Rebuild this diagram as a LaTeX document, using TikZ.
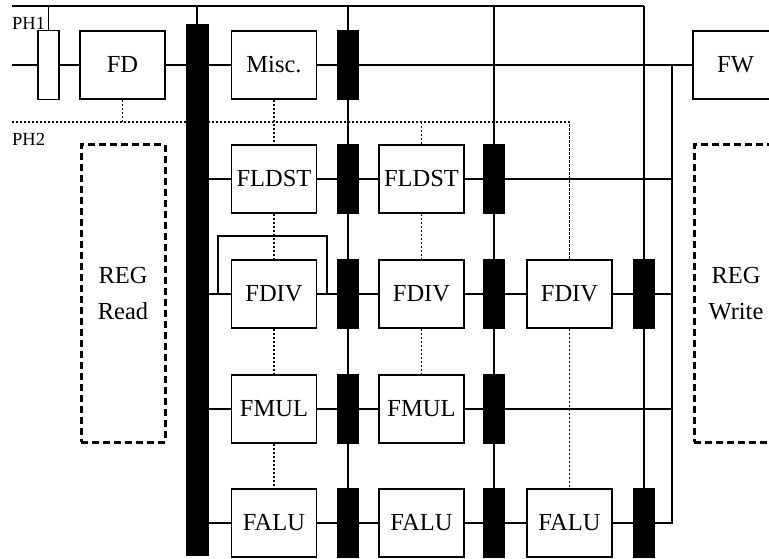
\documentclass[tikz,border=0pt]{standalone}
\usepackage{fontspec}
\setmainfont{Liberation Serif}
\begin{document}
\begin{tikzpicture}[x=1pt,y=-1pt,
  unit/.style={draw,line width=1.8pt,fill=white,minimum width=85pt,minimum height=68pt,inner sep=0pt,font=\fontsize{24.5}{28}\selectfont},
  latch/.style={draw,line width=0.5pt,fill=black,minimum width=21pt,minimum height=69pt,inner sep=0pt},
  sig/.style={line width=1.9pt},
  clk/.style={line width=1.2pt},
  ph2line/.style={line width=1.6pt,dash pattern=on 2.2pt off 1.8pt},
  regbox/.style={draw,line width=3pt,dash pattern=on 7pt off 4pt,minimum width=84pt,minimum height=297pt,inner sep=0pt,align=center,font=\fontsize{24.5}{36}\selectfont},
  lbl/.style={inner sep=0pt,font=\fontsize{18.5}{20}\selectfont}
]
\useasboundingbox (0,0) rectangle (769,559);
\clip (0,0) rectangle (769,559);

% labels
\node[lbl,anchor=base west] (ph1) at (12,29.5) {PH1};
\node[lbl,anchor=base west] (ph2) at (12,146) {PH2};

% big bar
\node[latch,minimum width=22pt,minimum height=531pt] (bar) at (197,289.5) {};

% PH1 latch box
\node[draw,line width=1.2pt,fill=white,minimum width=21pt,minimum height=69pt,inner sep=0pt] (ph1box) at (48.5,65) {};

% row 1
\node[unit] (fd) at (122.5,65) {FD};
\node[unit] (misc) at (274,65) {Misc.};
\node[unit] (fw) at (735.5,65) {FW};
\node[latch] (la1) at (348,65) {};

% row 2
\node[unit] (fldst1) at (274,179) {FLDST};
\node[unit] (fldst2) at (421.5,179) {FLDST};
\node[latch] (la2) at (348,179) {};
\node[latch] (lb2) at (494,179) {};

% row 3
\node[unit] (fdiv1) at (274,294) {FDIV};
\node[unit] (fdiv2) at (421.5,294) {FDIV};
\node[unit] (fdiv3) at (569.5,294) {FDIV};
\node[latch] (la3) at (348,294) {};
\node[latch] (lb3) at (494,294) {};
\node[latch] (lc3) at (644,294) {};

% row 4
\node[unit] (fmul1) at (274,409) {FMUL};
\node[unit] (fmul2) at (421.5,409) {FMUL};
\node[latch] (la4) at (348,409) {};
\node[latch] (lb4) at (494,409) {};

% row 5
\node[unit] (falu1) at (274,523) {FALU};
\node[unit] (falu2) at (421.5,523) {FALU};
\node[unit] (falu3) at (569.5,523) {FALU};
\node[latch] (la5) at (348,523) {};
\node[latch] (lb5) at (494,523) {};
\node[latch] (lc5) at (644,523) {};

% register boxes
\node[regbox] (regr) at (123,293.5) {REG\\Read};
\node[regbox] (regw) at (736,293.5) {REG\\Write};

% coordinates
\coordinate (ct0) at (12,6);
\coordinate (ct1) at (644,6);
\coordinate (in0) at (12,65);
\coordinate (p0) at (12,122);
\coordinate (rj) at (672,65);
\coordinate (rb) at (672,523);
\coordinate (fl1) at (218,294);
\coordinate (fl2) at (218,236);
\coordinate (fl3) at (327,236);
\coordinate (fl4) at (327,294);

% clock lines
\draw[clk] (ct0) -- (ct1);
\draw[clk] (ph1box.north |- ct0) -- (ph1box.north);
\draw[clk] (bar.north |- ct0) -- (bar.north);
\draw[clk] (la1.north |- ct0) -- (la1.north);
\draw[clk] (la1.south) -- (la2.north);
\draw[clk] (la2.south) -- (la3.north);
\draw[clk] (la3.south) -- (la4.north);
\draw[clk] (la4.south) -- (la5.north);
\draw[clk] (lb2.north |- ct0) -- (lb2.north);
\draw[clk] (lb2.south) -- (lb3.north);
\draw[clk] (lb3.south) -- (lb4.north);
\draw[clk] (lb4.south) -- (lb5.north);
\draw[clk] (ct1) -- (lc3.north);
\draw[clk] (lc3.south) -- (lc5.north);

% PH2 dotted lines
\draw[ph2line] (p0) -- (fdiv3.north |- p0) -- (fdiv3.north);
\draw[ph2line] (fdiv3.south) -- (falu3.north);
\draw[ph2line] (fd.south) -- (fd.south |- p0);
\draw[ph2line] (misc.south) -- (fldst1.north);
\draw[ph2line] (fldst1.south) -- (fdiv1.north);
\draw[ph2line] (fdiv1.south) -- (fmul1.north);
\draw[ph2line] (fmul1.south) -- (falu1.north);
\draw[ph2line] (fldst2.north |- p0) -- (fldst2.north);
\draw[ph2line] (fldst2.south) -- (fdiv2.north);
\draw[ph2line] (fdiv2.south) -- (fmul2.north);

% signal lines row 1
\draw[sig] (in0) -- (ph1box.west);
\draw[sig] (ph1box.east) -- (fd.west);
\draw[sig] (fd.east) -- (fd.east -| bar.west);
\draw[sig] (bar.east |- misc) -- (misc.west);
\draw[sig] (misc.east) -- (la1.west);
\draw[sig] (la1.east) -- (fw.west);
\draw[sig] (rj) -- (rb) -- (lc5.east);

% row 2
\draw[sig] (bar.east |- fldst1) -- (fldst1.west);
\draw[sig] (fldst1.east) -- (la2.west);
\draw[sig] (la2.east) -- (fldst2.west);
\draw[sig] (fldst2.east) -- (lb2.west);
\draw[sig] (lb2.east) -- (lb2.east -| rj);

% row 3
\draw[sig] (bar.east |- fdiv1) -- (fdiv1.west);
\draw[sig] (fl1) -- (fl2) -- (fl3) -- (fl4);
\draw[sig] (fdiv1.east) -- (la3.west);
\draw[sig] (la3.east) -- (fdiv2.west);
\draw[sig] (fdiv2.east) -- (lb3.west);
\draw[sig] (lb3.east) -- (fdiv3.west);
\draw[sig] (fdiv3.east) -- (lc3.west);
\draw[sig] (lc3.east) -- (lc3.east -| rj);

% row 4
\draw[sig] (bar.east |- fmul1) -- (fmul1.west);
\draw[sig] (fmul1.east) -- (la4.west);
\draw[sig] (la4.east) -- (fmul2.west);
\draw[sig] (fmul2.east) -- (lb4.west);
\draw[sig] (lb4.east) -- (lb4.east -| rj);

% row 5
\draw[sig] (bar.east |- falu1) -- (falu1.west);
\draw[sig] (falu1.east) -- (la5.west);
\draw[sig] (la5.east) -- (falu2.west);
\draw[sig] (falu2.east) -- (lb5.west);
\draw[sig] (lb5.east) -- (falu3.west);
\draw[sig] (falu3.east) -- (lc5.west);
\end{tikzpicture}
\end{document}
